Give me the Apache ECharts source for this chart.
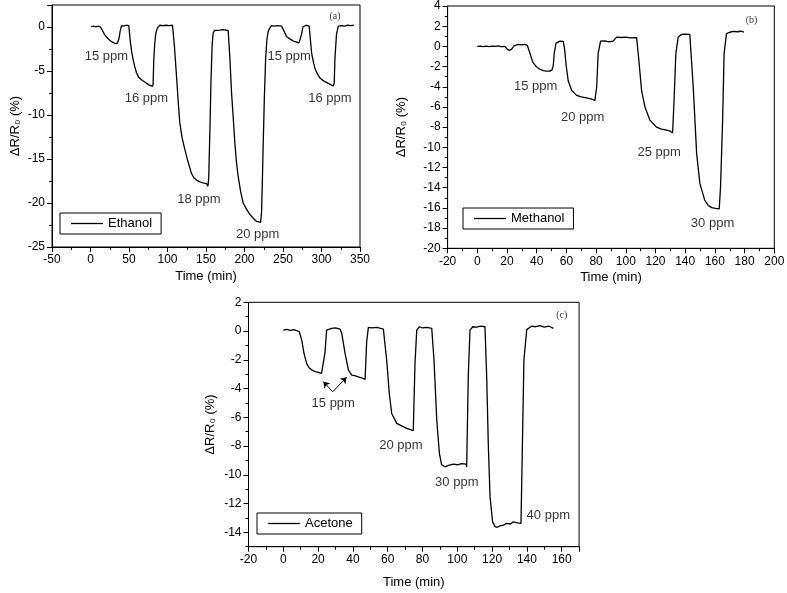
<!DOCTYPE html>
<html><head><meta charset="utf-8">
<script src="https://cdn.jsdelivr.net/npm/echarts@6/dist/echarts.min.js"></script>
<style>html,body{margin:0;padding:0;background:#fff}#c{width:787px;height:593px}</style>
</head><body><div id="c"></div><script>
// ---- Data ----
const ethanolTime = [1,4,7,10,12.9,15.5,18.5,22,25,28,31,34.5,35.8,37,38.5,40.2,43,46,49.7,51.9,53.5,55.3,57.5,59.7,62.5,66.2,69.5,72.7,76.5,80.5,81.3,82.2,83.5,84.8,87,90,94,98,102,106.5,109,111.7,114,116,119,122.5,126,131,134,137.7,142,146,150.7,152.5,153.5,155,156.5,158,159.3,161,163.5,168,172,176,178.8,181,183.2,185.5,187.5,189.5,191.8,195,198.3,202.5,207,211,215.7,220.9,222.2,223.2,224.3,225.8,227.4,229,230.8,233,235.2,239,243,248.2,251.5,254.7,259,263.3,267,270.7,272.5,274.2,275.8,277.2,280,284,287.2,289.5,291.5,294.5,298,303,308.8,312,315.3,316.5,317.5,319.5,321.8,326,330,334,338,342];
const ethanolValue = [0.05,0.1,0.0,0.1,0.0,-0.4,-0.9,-1.25,-1.5,-1.7,-1.82,-1.9,-1.85,-1.3,-0.5,0.15,0.1,0.2,0.15,-1.8,-2.8,-3.7,-4.5,-5.2,-5.7,-6.0,-6.2,-6.4,-6.6,-6.75,-6.5,-3.7,-1.8,-0.7,-0.1,0.2,0.15,0.2,0.15,0.2,-2.2,-5.6,-8.6,-10.9,-12.6,-13.9,-15.1,-16.6,-17.1,-17.4,-17.6,-17.7,-17.8,-18.1,-17.2,-12,-6,-2,-0.7,-0.4,-0.3,-0.35,-0.3,-0.35,-0.4,-3.5,-7.5,-10.5,-13.2,-15.3,-17,-18.7,-20,-20.7,-21.3,-21.7,-22.1,-22.2,-21,-17.5,-13.2,-8,-3.7,-1.5,-0.5,-0.1,0.15,0.1,0.15,0.1,-0.5,-1.1,-1.35,-1.6,-1.7,-1.8,-1.75,-0.8,0.0,0.1,0.2,0.1,-3,-4,-4.7,-5.3,-5.8,-6.15,-6.4,-6.55,-6.7,-6.4,-3.5,-0.8,0.1,0.15,0.1,0.2,0.15,0.2];

const methanolTime = [0,2,4,6,8,10,12,14,16,18.6,20,21.5,23,24.7,26,27.6,30,32,33.7,35.5,37.3,40,42,44.4,46.5,48.9,50.5,51.2,51.8,53,55.7,57.9,58.8,59.7,61.2,63.5,66.9,70,73.6,76.5,79.2,80.4,81.4,83,86,88.5,91.5,93.8,97,100,103,107.3,109,110.6,112.9,116.2,120.7,124,127.5,130,131.5,132.4,133.7,135.3,137.6,140,143.1,145.4,147.7,149.9,153.2,155.5,157.8,160.5,162.9,163.8,165.2,166.2,167.8,170,172.3,175,177.5,179.5];
const methanolValue = [0,0.02,-0.03,0.02,-0.02,0.03,0,0.04,-0.03,0,-0.25,-0.4,-0.3,0.05,0.15,0.2,0.15,0.2,0.1,-0.7,-1.55,-2.05,-2.25,-2.4,-2.45,-2.45,-2.3,-1.8,-0.7,0.33,0.52,0.5,-0.3,-1.7,-3.4,-4.35,-4.85,-5.0,-5.1,-5.2,-5.35,-4,-0.7,0.52,0.55,0.45,0.52,0.92,0.88,0.92,0.85,0.86,-1.7,-4.35,-6,-7.3,-8,-8.2,-8.3,-8.4,-8.55,-5.7,-0.7,0.92,1.19,1.22,1.19,-4,-10.6,-13.6,-15.25,-15.75,-15.97,-16.05,-16.1,-13.9,-7.3,-0.7,1.26,1.4,1.49,1.45,1.5,1.42];

const acetoneTime = [0,2,4,6,8,9.2,10.6,11.9,13.4,14.8,16.3,18,20.1,22,23,24,24.9,26,27.8,30,32.6,33.6,35.5,37.4,39.3,41,43.1,45,47,47.9,48.9,51,53.7,55.5,57.5,59.4,60.9,62.3,65.2,68,70.9,73,74.7,75.7,76.7,78.2,80,82.5,85.3,86.6,88.2,89.7,91,92.9,95,97.7,100,102.5,105,105.4,106.3,107.3,108.9,111,113.5,115.9,116.9,117.8,118.8,120.3,121.7,123,124.5,126.5,128.4,130.5,132.2,134.5,136.6,137.4,138.3,139.9,142.8,145,147.5,150,152.5,155.2];
const acetoneValue = [0.07,0.12,0.05,0.1,0.02,-0.05,-0.63,-1.55,-2.25,-2.55,-2.7,-2.8,-2.87,-2.95,-2.94,-1.46,0.07,0.2,0.19,0.22,0.14,-0.16,-1.55,-2.7,-3.06,-3.1,-3.18,-3.25,-3.36,-0.78,0.26,0.22,0.26,0.2,0.14,-2.0,-4.33,-5.73,-6.42,-6.6,-6.77,-6.85,-6.93,-2.2,0.07,0.3,0.22,0.25,0.19,-2.0,-6.2,-8.5,-9.3,-9.44,-9.35,-9.25,-9.3,-9.22,-9.25,-9.44,-3.18,0.07,0.3,0.28,0.35,0.3,-3.2,-7.8,-11.5,-13.27,-13.6,-13.65,-13.55,-13.5,-13.38,-13.42,-13.27,-13.35,-13.38,-8.0,-2.0,0.1,0.35,0.3,0.38,0.28,0.35,0.19];

// tick values of panel (c) y axis (labelled majors, unlabelled minors)
const acetoneMajorTicks = [2,0,-2,-4,-6,-8,-10,-12,-14];
const acetoneMinorTicks = [1,-1,-3,-5,-7,-9,-11,-13,-15];

// annotation texts and their data positions
const ethanolNoteText = ['15 ppm','16 ppm','18 ppm','20 ppm','15 ppm','16 ppm'];
const ethanolNoteTime = [20.7,72.7,140.7,217,258,311];
const ethanolNoteValue = [-3.4,-8.15,-19.6,-23.6,-3.4,-8.15];
const methanolNoteText = ['15 ppm','20 ppm','25 ppm','30 ppm'];
const methanolNoteTime = [39.3,70.9,122.5,158.4];
const methanolNoteValue = [-3.96,-7.06,-10.5,-17.5];
const acetoneNoteText = ['15 ppm','20 ppm','30 ppm','40 ppm'];
const acetoneNoteTime = [28.7,67.6,99.7,152.3];
const acetoneNoteValue = [-5.03,-7.98,-10.55,-12.8];
const panelTagText = ['(a)','(b)','(c)'];
const panelTagTime = [317.5,184.7,160];
const panelTagValue = [1.17,2.57,1.11];
// arrow from label to the two 15 ppm plateaus (panel c)
const arrowStart = [28.4,-4.22];
const arrowEnds = [[23.0,-3.52],[36.4,-3.22]];

const seriesNames = ['Ethanol','Methanol','Acetone'];

// ---- build ----
const zip = (a,b) => a.map((x,i)=>[x,b[i]]);
const FONT = 'Liberation Sans, Arial, sans-serif';
const notes = (txt,t,v) => txt.map((s,i)=>({value:[t[i],v[i]], name:s}));

function xAx(idx,min,max,interval,gap){
  return {gridIndex:idx,type:'value',min:min,max:max,interval:interval,
    name:'Time (min)',nameLocation:'middle',nameGap:gap,
    nameTextStyle:{color:'#000',fontSize:13,fontFamily:FONT},
    axisLine:{onZero:false,lineStyle:{color:'#000',width:1}},
    axisTick:{show:true,length:5,lineStyle:{color:'#000'}},
    minorTick:{show:true,splitNumber:2,length:3,lineStyle:{color:'#000'}},
    splitLine:{show:false},
    axisLabel:{color:'#000',fontSize:12,fontFamily:FONT,margin:7,showMaxLabel:(max%interval===0)}};
}
function yAx(idx,min,max,interval,gap){
  return {gridIndex:idx,type:'value',min:min,max:max,interval:interval,
    name:'ΔR/R₀ (%)',nameLocation:'middle',nameGap:gap,
    nameTextStyle:{color:'#000',fontSize:13,fontFamily:FONT},
    axisLine:{onZero:false,lineStyle:{color:'#000',width:1}},
    axisTick:{show:true,length:5,lineStyle:{color:'#000'}},
    minorTick:{show:true,splitNumber:2,length:3,lineStyle:{color:'#000'}},
    splitLine:{show:false},
    axisLabel:{color:'#000',fontSize:12,fontFamily:FONT,margin:7,showMaxLabel:(max%interval===0)}};
}
function lineSeries(name,idx,t,v){
  return {name:name,type:'line',xAxisIndex:idx,yAxisIndex:idx,data:zip(t,v),
    showSymbol:false,symbol:'none',lineStyle:{color:'#000',width:1.3},itemStyle:{color:'#000'},
    silent:true,animation:false,z:3};
}
function noteSeries(idx,items,tagIdx,extra){
  const data = items.concat([{value:[panelTagTime[tagIdx],panelTagValue[tagIdx]],name:panelTagText[tagIdx],
    label:{fontFamily:'Liberation Serif, serif',fontSize:10}}]);
  const s = {type:'scatter',xAxisIndex:idx,yAxisIndex:idx,data:data,symbolSize:0,silent:true,animation:false,
    label:{show:true,position:'inside',formatter:p=>p.name,color:'#000',fontSize:13,fontFamily:FONT},z:4};
  return Object.assign(s,extra||{});
}
function legend(idx,left,top){
  return {data:[seriesNames[idx]],left:left,top:top,orient:'horizontal',
    icon:'rect',itemWidth:32,itemHeight:1.3,
    borderColor:'#000',borderWidth:1,borderRadius:0,padding:[4,9,4,11],
    textStyle:{color:'#000',fontSize:13,fontFamily:FONT},selectedMode:false};
}

const grids = [
  {left:52,top:5,width:308,height:242},
  {left:447.6,top:6,width:326.7,height:242.3},
  {left:248.5,top:302.3,width:330.6,height:244.4}
].map(g=>Object.assign(g,{show:true,borderColor:'#000',borderWidth:1,backgroundColor:'transparent',containLabel:false,outerBoundsMode:'none'}));

// panel (c) y axis: majors labelled at even values, minors at odd values
const yC = yAx(2,-15,2,1,32);
yC.minorTick = {show:false};
yC.axisLabel.customValues = acetoneMajorTicks;
yC.axisTick.customValues = acetoneMajorTicks;
const yCminor = {gridIndex:2,type:'value',min:-15,max:2,interval:1,position:'left',
  axisLine:{show:false,onZero:false},axisLabel:{show:false},splitLine:{show:false},
  axisTick:{show:true,length:3,lineStyle:{color:'#000'},customValues:acetoneMinorTicks}};

const option = {
  backgroundColor:'#fff',
  animation:false,
  grid:grids,
  xAxis:[xAx(0,-50,350,50,23),xAx(1,-20,200,20,23),xAx(2,-20,170,20,29)],
  yAxis:[yAx(0,-25,2.5,5,30),yAx(1,-20,4,2,40),yC,yCminor],
  legend:[legend(0,60,213),legend(1,463,208),legend(2,257,513)],
  series:[
    lineSeries(seriesNames[0],0,ethanolTime,ethanolValue),
    lineSeries(seriesNames[1],1,methanolTime,methanolValue),
    lineSeries(seriesNames[2],2,acetoneTime,acetoneValue),
    noteSeries(0,notes(ethanolNoteText,ethanolNoteTime,ethanolNoteValue),0),
    noteSeries(1,notes(methanolNoteText,methanolNoteTime,methanolNoteValue),1),
    noteSeries(2,notes(acetoneNoteText,acetoneNoteTime,acetoneNoteValue),2,{
      markLine:{silent:true,animation:false,symbol:['none','arrow'],symbolSize:6,
        label:{show:false},lineStyle:{color:'#000',width:1,type:'solid'},
        data:arrowEnds.map(e=>[{coord:arrowStart},{coord:e}])}
    })
  ]
};
const chart = echarts.init(document.getElementById('c'),null,{renderer:'canvas'});
chart.setOption(option);
</script></body></html>
